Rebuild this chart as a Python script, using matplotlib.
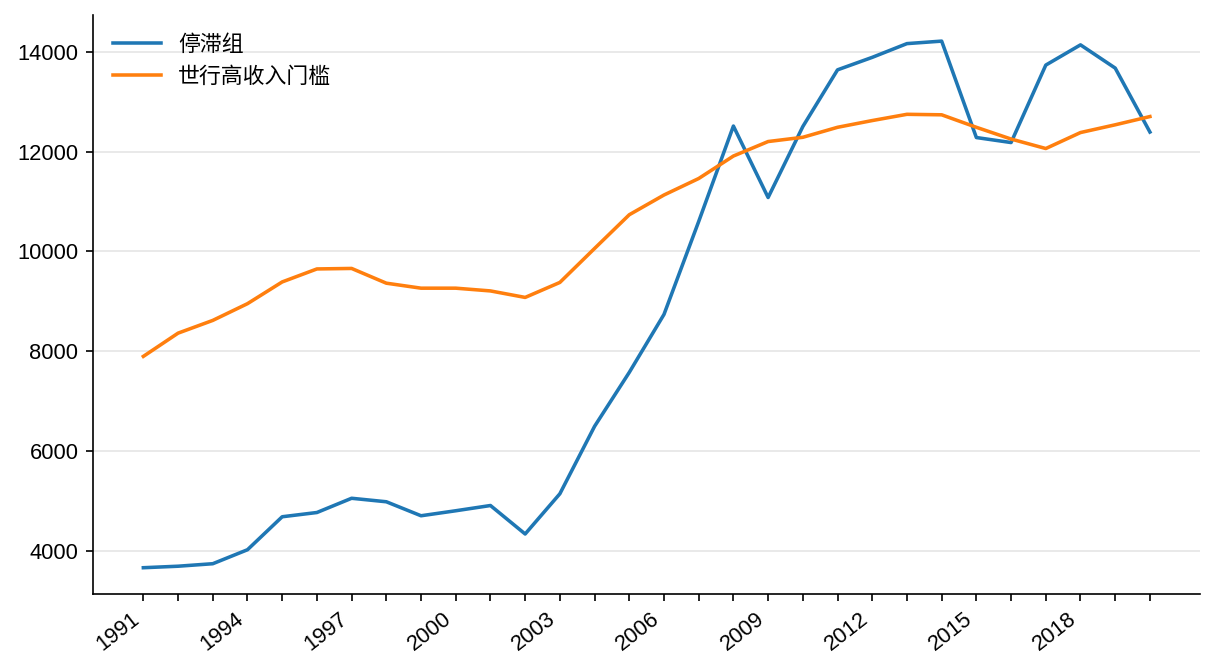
import matplotlib
matplotlib.use("Agg")
import matplotlib.pyplot as plt

plt.rcParams["font.family"] = ["Liberation Sans", "Noto Sans CJK SC", "DejaVu Sans"]
plt.rcParams["font.size"] = 10.5

# 数据
years = list(range(1991, 2021))
stagnant = [3670, 3700, 3750, 4030, 4690, 4775, 5060, 4990, 4710, 4810, 4915, 4345,
            5150, 6500, 7580, 8740, 10600, 12510, 11080, 12500, 13635, 13885, 14160, 14210,
            12280, 12180, 13730, 14135, 13670, 12390]
threshold = [7900, 8365, 8620, 8955, 9390, 9650, 9660, 9365, 9265, 9265, 9210, 9080,
             9380, 10060, 10735, 11130, 11460, 11910, 12200, 12285, 12485, 12620, 12745, 12735,
             12485, 12250, 12060, 12380, 12535, 12700]
series_names = ["停滞组", "世行高收入门槛"]

fig = plt.figure(figsize=(8.107, 4.48), dpi=150)
ax = fig.add_axes([0.0765, 0.116, 0.9105, 0.862])

ax.plot(years, stagnant, color="#1f77b4", lw=1.7, label=series_names[0])
ax.plot(years, threshold, color="#ff7f0e", lw=1.7, label=series_names[1])

ax.set_xticks(years)
ax.set_xticklabels([str(y) if (y - 1991) % 3 == 0 else "" for y in years],
                   rotation=38, ha="right")
ax.grid(axis="y", color="#e5e5e5", lw=0.8)
ax.set_axisbelow(True)
ax.spines["top"].set_visible(False)
ax.spines["right"].set_visible(False)
ax.legend(loc="upper left", frameon=False, handlelength=2.2)

fig.savefig("out.png", dpi=150)
